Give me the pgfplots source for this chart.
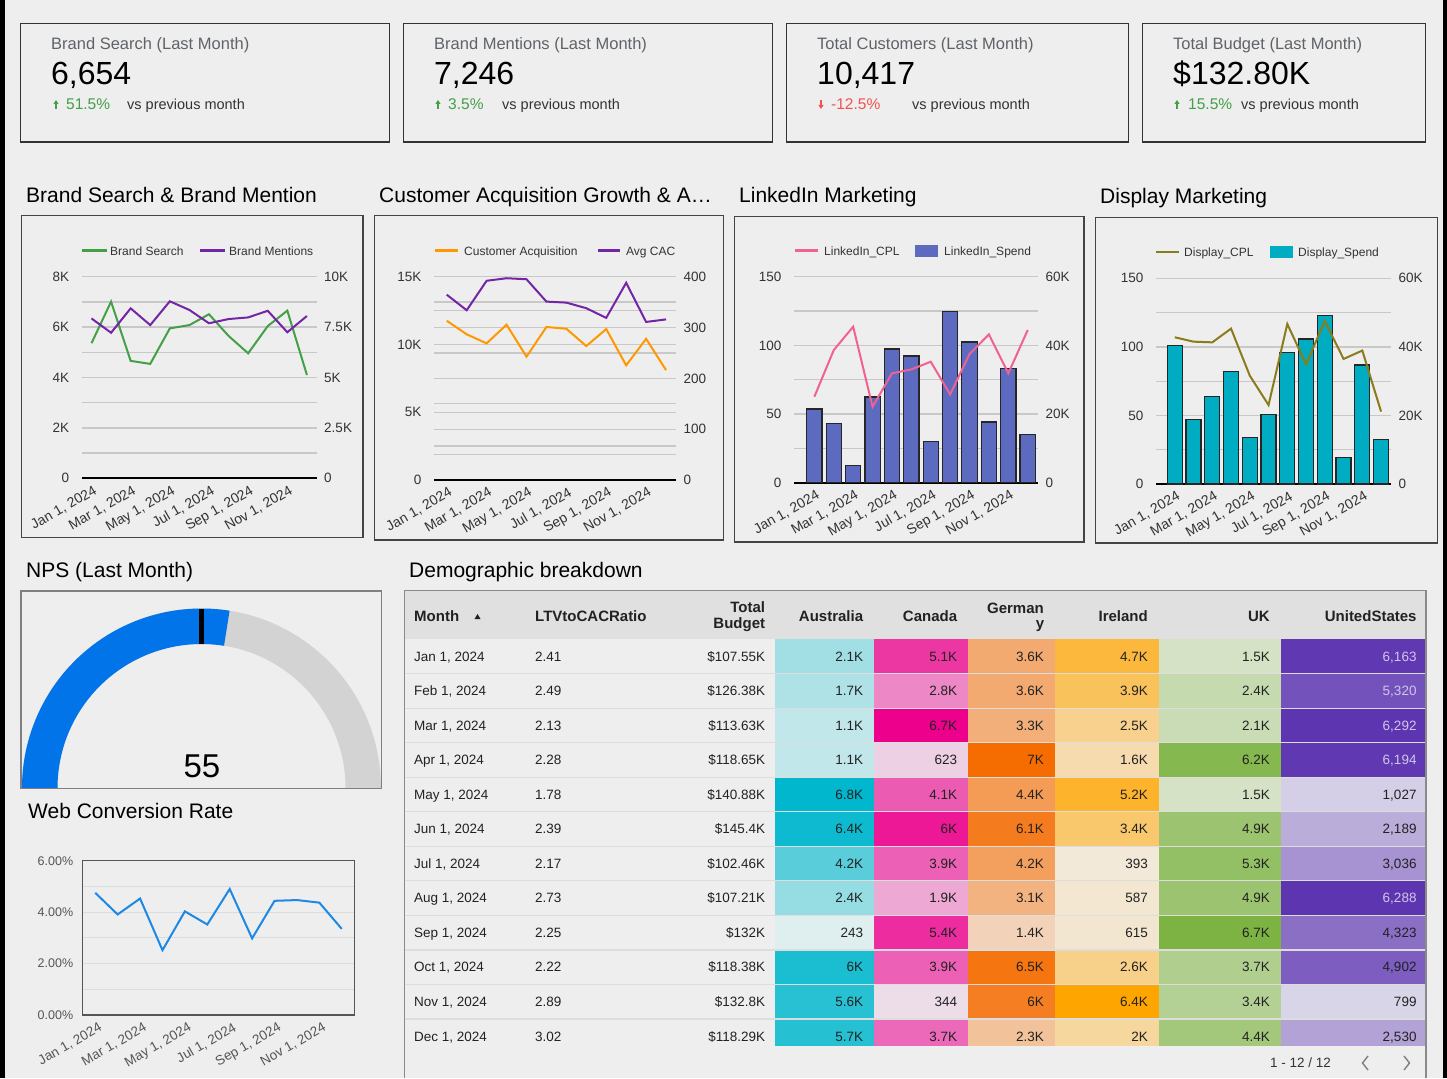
\documentclass[border=0pt]{standalone}
\usepackage{pgfplots}
\pgfplotsset{compat=1.18}
\usetikzlibrary{arrows.meta}
\usepackage{fontspec}
\setmainfont{Liberation Sans}
\newcommand\fs[1]{\fontsize{#1}{#1}\selectfont}
\definecolor{bgc}{HTML}{EEEEEE}
\definecolor{gridc}{HTML}{C8C8C8}
\definecolor{labc}{HTML}{333333}
\definecolor{ktitle}{HTML}{5F6368}
\definecolor{vsc}{HTML}{333333}
\definecolor{cardb}{HTML}{333333}
\definecolor{panelb}{HTML}{444444}
\definecolor{upg}{HTML}{43A047}
\definecolor{downr}{HTML}{EF5350}
\definecolor{bsg}{HTML}{43A047}
\definecolor{purp}{HTML}{7425A6}
\definecolor{orng}{HTML}{FF9800}
\definecolor{lpink}{HTML}{F06292}
\definecolor{lkd}{HTML}{5C6BC0}
\definecolor{dolive}{HTML}{8A7C1D}
\definecolor{dteal}{HTML}{00ACC1}
\definecolor{webb}{HTML}{1E88E5}
\definecolor{wgrid}{HTML}{DCDCDC}
\definecolor{wbord}{HTML}{555555}
\definecolor{wlab}{HTML}{555555}
\definecolor{gblue}{HTML}{0074E8}
\definecolor{ggray}{HTML}{D3D3D3}
\definecolor{npsb}{HTML}{808080}
\definecolor{hdr}{HTML}{E0E0E0}
\definecolor{sepc}{HTML}{DDDDDD}
\definecolor{tbord}{HTML}{8A8A8A}
\definecolor{txt}{HTML}{222222}
\definecolor{usl}{HTML}{CFC6EA}
\definecolor{auhi}{HTML}{00B7CD}\definecolor{aulo}{HTML}{DFEEEE}
\definecolor{cahi}{HTML}{EC008C}\definecolor{calo}{HTML}{EDDDE9}
\definecolor{dehi}{HTML}{F56C00}\definecolor{delo}{HTML}{F2D2B9}
\definecolor{iehi}{HTML}{FFA500}\definecolor{ielo}{HTML}{F3E9D9}
\definecolor{ukhi}{HTML}{7CB342}\definecolor{uklo}{HTML}{D5E2C5}
\definecolor{ushi}{HTML}{5E35B1}\definecolor{uslo}{HTML}{D9D5E8}

\pgfplotsset{
  dash/.style={
    scale only axis,
    scaled ticks=false,
    /pgf/number format/assume math mode=true,
    major tick length=0pt, minor tick length=0pt,
    tick style={draw=none},
    ymin=0,
    xtick={0,2,4,6,8,10},
    xticklabels={{Jan 1, 2024},{Mar 1, 2024},{May 1, 2024},{Jul 1, 2024},{Sep 1, 2024},{Nov 1, 2024}},
    xticklabel style={rotate=30, anchor=north east, font=\fs{14}, text=labc, inner sep=1pt, yshift=-5pt, xshift=-1pt},
    yticklabel style={font=\fs{13.5}, text=labc},
    grid style={gridc, line width=1.3pt},
    minor grid style={gridc, line width=1.3pt},
  },
  yleft/.style={axis y line*=left, y axis line style={draw=none}, yticklabel style={xshift=-9pt}},
  yright/.style={axis y line*=right, y axis line style={draw=none}, yticklabel style={xshift=4pt}},
  xbot/.style={axis x line*=bottom, x axis line style={black, line width=1.8pt, -}},
  xnone/.style={axis x line=none, xtick=\empty},
}

\newcommand\kpi[9]{%
 \node[anchor=base west, inner sep=0, text=ktitle, font=\fs{16.5}] at (#1,-49.5) {#2};
 \node[anchor=base west, inner sep=0, text=black, font=\fs{32}] at (#1,-85) {#3};
 \node[anchor=base west, inner sep=0, text=#7, font=\fs{15.5}] at (#5,-109.5) {#6};
 \node[anchor=base west, inner sep=0, text=vsc, font=\fs{14.5}] at (#8,-109.5) {vs previous month};
 \draw[#7, line width=1.6pt, -{Triangle[length=4pt,width=5pt]}] (#4,{-104.5-4.5*#9}) -- (#4,{-104.5+4.5*#9});
}
\newcommand\hc[6]{%
  \fill[fill=#4] (#1,{-639-34.55*#3}) rectangle (#2,{-639-34.55*(#3+1)});
  \node[anchor=base east, inner sep=0, font=\fs{13.5}, text=#6] at ({#2-10.7},{-661-34.55*#3}) {#5};
}

\begin{document}
\begin{tikzpicture}[x=1pt,y=1pt]
\fill[black] (0,0) rectangle (1447,-1078);
\fill[bgc] (5,0) rectangle (1443,-1078);

% ---------- KPI cards ----------
\tikzset{card/.style={draw=cardb, line width=1.3pt}}
\draw[card] (20.5,-23.5) rectangle (389.5,-142);
\draw[card] (403.5,-23.5) rectangle (772.5,-142);
\draw[card] (786.5,-23.5) rectangle (1128.5,-142);
\draw[card] (1142.5,-23.5) rectangle (1425.5,-142);
\kpi{51}{Brand Search (Last Month)}{6,654}{56}{66}{51.5\%}{upg}{127}{1}
\kpi{434}{Brand Mentions (Last Month)}{7,246}{438}{448}{3.5\%}{upg}{502}{1}
\kpi{817}{Total Customers (Last Month)}{10,417}{821}{831}{-12.5\%}{downr}{912}{-1}
\kpi{1173}{Total Budget (Last Month)}{\$132.80K}{1177}{1188}{15.5\%}{upg}{1241}{1}

% ---------- section titles ----------
\tikzset{sect/.style={anchor=base west, inner sep=0, font=\fs{21}, text=black}}
\node[sect] at (26,-202) {Brand Search \& Brand Mention};
\node[sect] at (379,-202) {Customer Acquisition Growth \& A…};
\node[sect] at (739,-202) {LinkedIn Marketing};
\node[sect] at (1100,-204) {Display Marketing};
\node[sect] at (26,-577) {NPS (Last Month)};
\node[sect] at (409,-577) {Demographic breakdown};
\node[sect] at (28,-818) {Web Conversion Rate};

% ---------- panels ----------
\tikzset{panel/.style={draw=panelb, line width=1.3pt}}
\draw[panel] (21.5,-215.5) rectangle (363,-537.5);
\draw[panel] (374.5,-215.5) rectangle (723.5,-540);
\draw[panel] (734.5,-216.5) rectangle (1084,-542);
\draw[panel] (1095.5,-217.5) rectangle (1437.5,-543);

% ---------- legends ----------
\tikzset{leg/.style={anchor=base west, inner sep=0, font=\fs{12}, text=labc}}
\draw[bsg, line width=2.5pt] (81.7,-250.7) -- (106.7,-250.7);
\node[leg] at (110,-255) {Brand Search};
\draw[purp, line width=2.5pt] (200,-250.7) -- (225,-250.7);
\node[leg] at (229,-255) {Brand Mentions};
\draw[orng, line width=2.5pt] (435,-250.7) -- (458,-250.7);
\node[leg] at (464,-255) {Customer Acquisition};
\draw[purp, line width=2.5pt] (598,-250.7) -- (620,-250.7);
\node[leg] at (626,-255) {Avg CAC};
\draw[lpink, line width=2.5pt] (795,-250.7) -- (818,-250.7);
\node[leg] at (824,-255) {LinkedIn\_CPL};
\fill[lkd] (915,-244.5) rectangle (938,-257);
\node[leg] at (944,-255) {LinkedIn\_Spend};
\draw[dolive, line width=2.5pt] (1156,-252) -- (1179,-252);
\node[leg] at (1184,-256.3) {Display\_CPL};
\fill[dteal] (1270,-245.8) rectangle (1293,-258.3);
\node[leg] at (1298,-256.3) {Display\_Spend};

% ---------- Chart 1: Brand Search & Mentions ----------
\begin{axis}[dash, yleft, xbot, at={(81.7pt,-478.3pt)}, anchor=south west,
  width=235pt, height=201.6pt, xmin=-0.5, xmax=11.5, ymax=8000,
  ytick={0,2000,4000,6000,8000}, yticklabels={0,2K,4K,6K,8K},
  minor ytick={1000,3000,5000,7000}, ymajorgrids, yminorgrids]
\addplot[bsg, line width=2pt] coordinates {(0,5360)(1,7010)(2,4660)(3,4540)(4,5950)(5,6080)(6,6510)(7,5650)(8,4960)(9,6040)(10,6654)(11,4100)};
\end{axis}
\begin{axis}[dash, yright, xnone, at={(81.7pt,-478.3pt)}, anchor=south west,
  width=235pt, height=201.6pt, xmin=-0.5, xmax=11.5, ymax=10000,
  ytick={0,2500,5000,7500,10000}, yticklabels={0,2.5K,5K,7.5K,10K}]
\addplot[purp, line width=2pt] coordinates {(0,7930)(1,7220)(2,8430)(3,7600)(4,8780)(5,8350)(6,7690)(7,7900)(8,7980)(9,8310)(10,7246)(11,8050)};
\end{axis}

% ---------- Chart 2: Customer Acquisition & Avg CAC ----------
\begin{axis}[dash, yleft, xbot, at={(434pt,-480pt)}, anchor=south west,
  width=242pt, height=203.3pt, xmin=-0.64, xmax=11.5, ymax=15000,
  ytick={0,5000,10000,15000}, yticklabels={0,5K,10K,15K},
  minor ytick={1875,2500,3750,5625,7500,9375,11250,12500,13125}, ymajorgrids, yminorgrids]
\addplot[orng, line width=2pt] coordinates {(0,11750)(1,10750)(2,10080)(3,11460)(4,9100)(5,11290)(6,11160)(7,9880)(8,11140)(9,8460)(10,10417)(11,8110)};
\end{axis}
\begin{axis}[dash, yright, xnone, at={(434pt,-480pt)}, anchor=south west,
  width=242pt, height=203.3pt, xmin=-0.64, xmax=11.5, ymax=400,
  ytick={0,100,200,300,400}, yticklabels={0,100,200,300,400}]
\addplot[purp, line width=2pt] coordinates {(0,364.6)(1,334)(2,392)(3,397)(4,395)(5,351)(6,349)(7,338)(8,319)(9,388)(10,311)(11,316)};
\end{axis}

% ---------- Chart 3: LinkedIn ----------
\begin{axis}[dash, yright, xbot, at={(794pt,-482.7pt)}, anchor=south west,
  width=244pt, height=206pt, xmin=-1.05, xmax=11.53, ymax=60000,
  ytick={0,20000,40000,60000}, yticklabels={0,20K,40K,60K},
  minor ytick={10000,30000,50000}, ymajorgrids, yminorgrids]
\addplot[ybar, bar width=15.3pt, fill=lkd, draw=black!85, line width=1.2pt] coordinates {(0,21460)(1,17280)(2,4950)(3,24950)(4,38930)(5,36890)(6,12040)(7,49800)(8,40970)(9,17670)(10,33300)(11,14080)};
\end{axis}
\begin{axis}[dash, yleft, xnone, at={(794pt,-482.7pt)}, anchor=south west,
  width=244pt, height=206pt, xmin=-1.05, xmax=11.53, ymax=150,
  ytick={0,50,100,150}, yticklabels={0,50,100,150}]
\addplot[lpink, line width=2pt] coordinates {(0,62.6)(1,96.6)(2,113.6)(3,55.3)(4,79.6)(5,82.5)(6,88.1)(7,64.3)(8,93.7)(9,108)(10,79.6)(11,111.2)};
\end{axis}

% ---------- Chart 4: Display ----------
\begin{axis}[dash, yright, xbot, at={(1156pt,-484pt)}, anchor=south west,
  width=235pt, height=205.7pt, xmin=-1.0, xmax=11.53, ymax=60000,
  ytick={0,20000,40000,60000}, yticklabels={0,20K,40K,60K},
  minor ytick={10000,30000,50000}, ymajorgrids, yminorgrids]
\addplot[ybar, bar width=15pt, fill=dteal, draw=black!85, line width=1.2pt] coordinates {(0,40300)(1,18900)(2,25500)(3,32900)(4,13600)(5,20300)(6,38400)(7,42300)(8,49200)(9,7700)(10,34700)(11,12900)};
\end{axis}
\begin{axis}[dash, yleft, xnone, at={(1156pt,-484pt)}, anchor=south west,
  width=235pt, height=205.7pt, xmin=-1.0, xmax=11.53, ymax=150,
  ytick={0,50,100,150}, yticklabels={0,50,100,150}]
\addplot[dolive, line width=2pt] coordinates {(0,107)(1,103.8)(2,103.3)(3,113.3)(4,79)(5,57.6)(6,116.7)(7,87.3)(8,118.9)(9,91.2)(10,97.3)(11,52.8)};
\end{axis}

% ---------- NPS gauge ----------
\begin{scope}
\clip (21,-591) rectangle (381.5,-788);
\fill[ggray] (22,-788) arc[start angle=180,end angle=0,radius=179.5] -- (345.5,-788) arc[start angle=0,end angle=180,radius=144] -- cycle;
\fill[gblue] (22,-788) arc[start angle=180,end angle=81,radius=179.5] -- ([shift={(201.5,-788)}]81:144) arc[start angle=81,end angle=180,radius=144] -- cycle;
\draw[black, line width=4.5pt] ([shift={(201.5,-788)}]90:144) -- ([shift={(201.5,-788)}]90:179.5);
\end{scope}
\draw[npsb, line width=1.5pt] (21,-591) rectangle (381.5,-788.5);
\node[anchor=base, inner sep=0, font=\fs{33}] at (202,-777) {55};

% ---------- Web conversion ----------
\begin{axis}[scale only axis, scaled ticks=false, at={(82.7pt,-1015pt)}, anchor=south west, width=271.6pt, height=154.3pt,
 xmin=-0.56, xmax=11.56, ymin=0, ymax=6,
 axis line style={draw=wbord, line width=1.3pt},
 tick style={draw=none}, major tick length=0pt, minor tick length=0pt,
 ytick={0,2,4,6}, yticklabels={0.00\%,2.00\%,4.00\%,6.00\%},
 minor ytick={1,3,5}, ymajorgrids, yminorgrids,
 grid style={wgrid, line width=1.2pt}, minor grid style={wgrid, line width=1.2pt},
 yticklabel style={font=\fs{12.5}, text=wlab, xshift=-6pt},
 xtick={0,2,4,6,8,10},
 xticklabels={{Jan 1, 2024},{Mar 1, 2024},{May 1, 2024},{Jul 1, 2024},{Sep 1, 2024},{Nov 1, 2024}},
 xticklabel style={rotate=30, anchor=north east, font=\fs{13.5}, text=wlab, inner sep=1pt, yshift=-6pt}]
\addplot[webb, line width=2pt] coordinates {(0,4.75)(1,3.91)(2,4.53)(3,2.52)(4,4.03)(5,3.52)(6,4.90)(7,2.98)(8,4.44)(9,4.47)(10,4.37)(11,3.35)};
\end{axis}

% ---------- Table ----------
\fill[hdr] (405,-591) rectangle (1425,-639);
\begin{scope}
\clip (404,-639) rectangle (1426,-1045);
\foreach \i/\p/\t in {0/28/2.1K,1/22/1.7K,2/13/1.1K,3/13/1.1K,4/100/6.8K,5/94/6.4K,6/60/4.2K,7/33/2.4K,8/0/243,9/88/6K,10/82/5.6K,11/83/5.7K}
  {\hc{775.3}{874}{\i}{auhi!\p!aulo}{\t}{txt}}
\foreach \i/\p/\t in {0/75/5.1K,1/39/2.8K,2/100/6.7K,3/6/623,4/59/4.1K,5/89/6K,6/56/3.9K,7/24/1.9K,8/80/5.4K,9/56/3.9K,10/0/344,11/53/3.7K}
  {\hc{874}{968}{\i}{cahi!\p!calo}{\t}{txt}}
\foreach \i/\p/\t in {0/39/3.6K,1/39/3.6K,2/34/3.3K,3/100/7K,4/54/4.4K,5/84/6.1K,6/50/4.2K,7/30/3.1K,8/0/1.4K,9/91/6.5K,10/82/6K,11/16/2.3K}
  {\hc{968}{1054.7}{\i}{dehi!\p!delo}{\t}{txt}}
\foreach \i/\p/\t in {0/72/4.7K,1/58/3.9K,2/35/2.5K,3/20/1.6K,4/80/5.2K,5/50/3.4K,6/0/393,7/3/587,8/4/615,9/37/2.6K,10/100/6.4K,11/27/2K}
  {\hc{1054.7}{1158.7}{\i}{iehi!\p!ielo}{\t}{txt}}
\foreach \i/\p/\t in {0/0/1.5K,1/17/2.4K,2/12/2.1K,3/90/6.2K,4/0/1.5K,5/65/4.9K,6/73/5.3K,7/65/4.9K,8/100/6.7K,9/42/3.7K,10/37/3.4K,11/56/4.4K}
  {\hc{1158.7}{1280.7}{\i}{ukhi!\p!uklo}{\t}{txt}}
\foreach \i/\p/\t/\c in {0/98/{6,163}/usl,1/82/{5,320}/usl,2/100/{6,292}/usl,3/98/{6,194}/usl,4/4/{1,027}/txt,5/25/{2,189}/txt,6/41/{3,036}/txt,7/100/{6,288}/usl,8/64/{4,323}/txt,9/75/{4,902}/txt,10/0/799/txt,11/32/{2,530}/txt}
  {\fill[fill=ushi!\p!uslo] (1280.7,{-639-34.55*\i}) rectangle (1425,{-639-34.55*(\i+1)});
   \node[anchor=base east, inner sep=0, font=\fs{13.5}, text=\c] at (1416.7,{-661-34.55*\i}) {\t};}
\foreach \i/\m/\r/\b in {0/Jan/2.41/107.55K,1/Feb/2.49/126.38K,2/Mar/2.13/113.63K,3/Apr/2.28/118.65K,4/May/1.78/140.88K,5/Jun/2.39/145.4K,6/Jul/2.17/102.46K,7/Aug/2.73/107.21K,8/Sep/2.25/132K,9/Oct/2.22/118.38K,10/Nov/2.89/132.8K,11/Dec/3.02/118.29K}
  {\node[anchor=base west, inner sep=0, font=\fs{13.5}, text=txt] at (414,{-661-34.55*\i}) {\m\ 1, 2024};
   \node[anchor=base west, inner sep=0, font=\fs{13.5}, text=txt] at (535,{-661-34.55*\i}) {\r};
   \node[anchor=base east, inner sep=0, font=\fs{13.5}, text=txt] at (765.3,{-661-34.55*\i}) {\$\b};}
\foreach \i in {1,...,11}
  {\draw[sepc, line width=1.2pt] (405,{-639-34.55*\i}) -- (1425,{-639-34.55*\i});}
\end{scope}
\tikzset{th/.style={inner sep=0, font=\bfseries\fs{15}, text=txt}}
\node[th, anchor=base west] at (414,-621) {Month};
\fill[txt] (474.5,-619) -- (480.5,-619) -- (477.5,-614) -- cycle;
\node[th, anchor=base west] at (535,-621) {LTVtoCACRatio};
\node[th, anchor=base east] at (765.3,-612) {Total};
\node[th, anchor=base east] at (765.3,-628) {Budget};
\node[th, anchor=base east] at (863.3,-621) {Australia};
\node[th, anchor=base east] at (957.3,-621) {Canada};
\node[th, anchor=base east] at (1044,-613) {German};
\node[th, anchor=base] at (1040,-628) {y};
\node[th, anchor=base east] at (1148,-621) {Ireland};
\node[th, anchor=base east] at (1270,-621) {UK};
\node[th, anchor=base east] at (1416.7,-621) {UnitedStates};
\draw[tbord, line width=1.5pt] (404.5,-1078) -- (404.5,-590.5) -- (1426,-590.5) -- (1426,-1078);
\node[anchor=base east, inner sep=0, font=\fs{13.5}, text=labc] at (1331,-1067) {1 - 12 / 12};
\draw[gray, line width=1.4pt] (1368,-1056) -- (1362.5,-1063) -- (1368,-1070);
\draw[gray, line width=1.4pt] (1404,-1056) -- (1409.5,-1063) -- (1404,-1070);

\pgfresetboundingbox
\useasboundingbox (0,0) rectangle (1447,-1078);
\end{tikzpicture}
\end{document}
